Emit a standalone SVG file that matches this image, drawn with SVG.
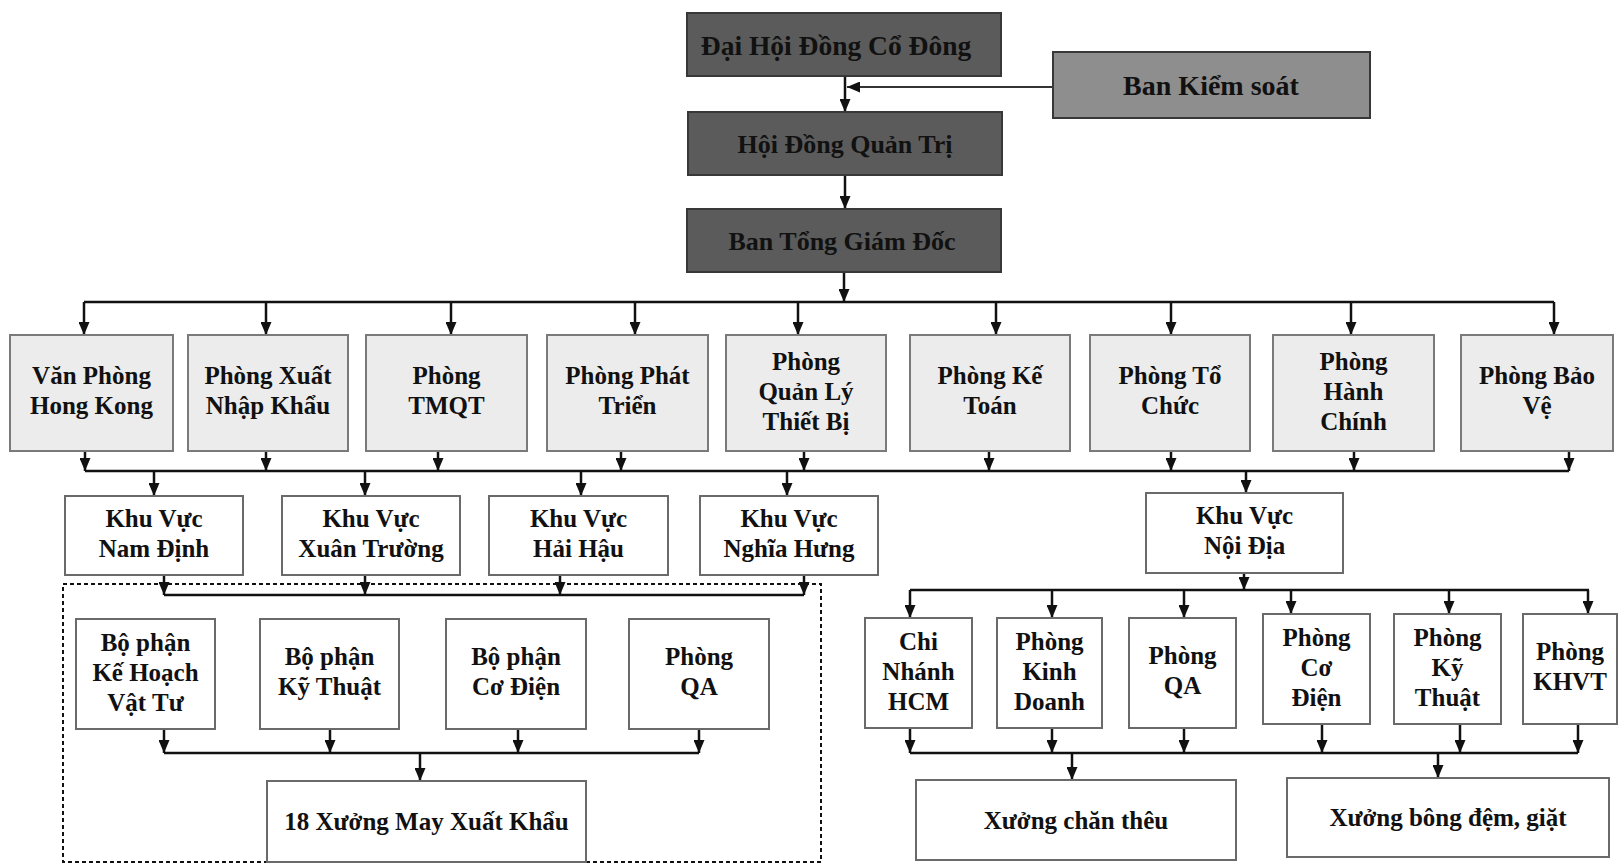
<svg xmlns="http://www.w3.org/2000/svg" width="1619" height="865" viewBox="0 0 1619 865">
<style>
.dark{fill:#5b5b5b;stroke:#383838;stroke-width:2}
.mid{fill:#8e8e8e;stroke:#383838;stroke-width:2}
.light{fill:#ececec;stroke:#7a7a7a;stroke-width:2}
.white{fill:#ffffff;stroke:#6a6a6a;stroke-width:2}
text{font-family:"Liberation Serif","Times New Roman",serif;font-weight:bold;fill:#111;text-anchor:middle;font-size:25px}
.big{font-size:26px}
.top{font-size:27.5px}
.bks{font-size:28px}
.conn{stroke:#111;stroke-width:2.5;fill:none}
.thin{stroke:#333;stroke-width:2}
.arr{marker-end:url(#ah)}
.dash{fill:none;stroke:#111;stroke-width:2;stroke-dasharray:4 3}
</style>
<defs>
<marker id="ah" viewBox="0 0 13 11" refX="13" refY="5.5" markerWidth="13" markerHeight="11" markerUnits="userSpaceOnUse" orient="auto">
<path d="M0,0 L13,5.5 L0,11 z" fill="#111"/>
</marker>
</defs>
<rect width="1619" height="865" fill="#ffffff"/>

<g id="region-dashed">
<rect class="dash" x="63" y="584" width="758" height="278"/>
</g>

<g id="connectors">
<line class="conn arr" x1="845" y1="76" x2="845" y2="112"/>
<line class="conn thin arr" x1="1053" y1="87" x2="847" y2="87"/>
<line class="conn arr" x1="845" y1="175" x2="845" y2="209"/>
<line class="conn arr" x1="844" y1="272" x2="844" y2="302"/>
<line class="conn" x1="84" y1="302" x2="1554" y2="302"/>
<line class="conn arr" x1="84" y1="302" x2="84" y2="335"/>
<line class="conn arr" x1="266" y1="302" x2="266" y2="335"/>
<line class="conn arr" x1="451" y1="302" x2="451" y2="335"/>
<line class="conn arr" x1="635" y1="302" x2="635" y2="335"/>
<line class="conn arr" x1="798" y1="302" x2="798" y2="335"/>
<line class="conn arr" x1="996" y1="302" x2="996" y2="335"/>
<line class="conn arr" x1="1171" y1="302" x2="1171" y2="335"/>
<line class="conn arr" x1="1351" y1="302" x2="1351" y2="335"/>
<line class="conn arr" x1="1554" y1="302" x2="1554" y2="335"/>

<line class="conn arr" x1="85" y1="451" x2="85" y2="471"/>
<line class="conn arr" x1="266" y1="451" x2="266" y2="471"/>
<line class="conn arr" x1="438" y1="451" x2="438" y2="471"/>
<line class="conn arr" x1="621" y1="451" x2="621" y2="471"/>
<line class="conn arr" x1="804" y1="451" x2="804" y2="471"/>
<line class="conn arr" x1="989" y1="451" x2="989" y2="471"/>
<line class="conn arr" x1="1171" y1="451" x2="1171" y2="471"/>
<line class="conn arr" x1="1354" y1="451" x2="1354" y2="471"/>
<line class="conn arr" x1="1569" y1="451" x2="1569" y2="471"/>
<line class="conn" x1="85" y1="471" x2="1569" y2="471"/>

<line class="conn arr" x1="154" y1="471" x2="154" y2="496"/>
<line class="conn arr" x1="365" y1="471" x2="365" y2="496"/>
<line class="conn arr" x1="581" y1="471" x2="581" y2="496"/>
<line class="conn arr" x1="787" y1="471" x2="787" y2="496"/>
<line class="conn arr" x1="1246" y1="471" x2="1246" y2="493"/>

<line class="conn arr" x1="164" y1="575" x2="164" y2="595"/>
<line class="conn arr" x1="365" y1="575" x2="365" y2="595"/>
<line class="conn arr" x1="560" y1="575" x2="560" y2="595"/>
<line class="conn arr" x1="804" y1="575" x2="804" y2="595"/>
<line class="conn" x1="164" y1="595" x2="804" y2="595"/>

<line class="conn arr" x1="164" y1="729" x2="164" y2="753"/>
<line class="conn arr" x1="330" y1="729" x2="330" y2="753"/>
<line class="conn arr" x1="518" y1="729" x2="518" y2="753"/>
<line class="conn arr" x1="699" y1="729" x2="699" y2="753"/>
<line class="conn" x1="164" y1="753" x2="699" y2="753"/>
<line class="conn arr" x1="420" y1="753" x2="420" y2="781"/>

<line class="conn arr" x1="1244" y1="573" x2="1244" y2="590"/>
<line class="conn" x1="910" y1="590" x2="1589" y2="590"/>
<line class="conn arr" x1="910" y1="590" x2="910" y2="618"/>
<line class="conn arr" x1="1052" y1="590" x2="1052" y2="618"/>
<line class="conn arr" x1="1184" y1="590" x2="1184" y2="618"/>
<line class="conn arr" x1="1291" y1="590" x2="1291" y2="614"/>
<line class="conn arr" x1="1449" y1="590" x2="1449" y2="614"/>
<line class="conn arr" x1="1588" y1="590" x2="1588" y2="614"/>

<line class="conn arr" x1="910" y1="728" x2="910" y2="753"/>
<line class="conn arr" x1="1052" y1="728" x2="1052" y2="753"/>
<line class="conn arr" x1="1184" y1="728" x2="1184" y2="753"/>
<line class="conn arr" x1="1322" y1="724" x2="1322" y2="753"/>
<line class="conn arr" x1="1460" y1="724" x2="1460" y2="753"/>
<line class="conn arr" x1="1578" y1="724" x2="1578" y2="753"/>
<line class="conn" x1="910" y1="753" x2="1578" y2="753"/>
<line class="conn arr" x1="1072" y1="753" x2="1072" y2="780"/>
<line class="conn arr" x1="1438" y1="753" x2="1438" y2="778"/>
</g>

<g id="n-dhdcd"><rect class="dark" x="687" y="13" width="314" height="63"/><text class="top" x="836" y="55">Đại Hội Đồng Cổ Đông</text></g>
<g id="n-bks"><rect class="mid" x="1053" y="52" width="317" height="66"/><text class="bks" x="1211" y="95">Ban Kiểm soát</text></g>
<g id="n-hdqt"><rect class="dark" x="688" y="112" width="314" height="63"/><text class="big" x="845" y="153">Hội Đồng Quản Trị</text></g>
<g id="n-btgd"><rect class="dark" x="687" y="209" width="314" height="63"/><text class="big" x="842" y="250">Ban Tổng Giám Đốc</text></g>

<g id="n-vphk"><rect class="light" x="10" y="335" width="163" height="116"/><text x="91.5" y="384">Văn Phòng</text><text x="91.5" y="414">Hong Kong</text></g>
<g id="n-xnk"><rect class="light" x="188" y="335" width="160" height="116"/><text x="268" y="384">Phòng Xuất</text><text x="268" y="414">Nhập Khẩu</text></g>
<g id="n-tmqt"><rect class="light" x="366" y="335" width="161" height="116"/><text x="446.5" y="384">Phòng</text><text x="446.5" y="414">TMQT</text></g>
<g id="n-pt"><rect class="light" x="547" y="335" width="161" height="116"/><text x="627.5" y="384">Phòng Phát</text><text x="627.5" y="414">Triển</text></g>
<g id="n-qltb"><rect class="light" x="726" y="335" width="160" height="116"/><text x="806" y="370">Phòng</text><text x="806" y="400">Quản Lý</text><text x="806" y="430">Thiết Bị</text></g>
<g id="n-kt"><rect class="light" x="910" y="335" width="160" height="116"/><text x="990" y="384">Phòng Kế</text><text x="990" y="414">Toán</text></g>
<g id="n-tc"><rect class="light" x="1090" y="335" width="160" height="116"/><text x="1170" y="384">Phòng Tổ</text><text x="1170" y="414">Chức</text></g>
<g id="n-hc"><rect class="light" x="1273" y="335" width="161" height="116"/><text x="1353.5" y="370">Phòng</text><text x="1353.5" y="400">Hành</text><text x="1353.5" y="430">Chính</text></g>
<g id="n-bv"><rect class="light" x="1461" y="335" width="152" height="116"/><text x="1537" y="384">Phòng Bảo</text><text x="1537" y="414">Vệ</text></g>

<g id="n-kvnd"><rect class="white" x="65" y="496" width="178" height="79"/><text x="154" y="527">Khu Vực</text><text x="154" y="557">Nam Định</text></g>
<g id="n-kvxt"><rect class="white" x="282" y="496" width="178" height="79"/><text x="371" y="527">Khu Vực</text><text x="371" y="557">Xuân Trường</text></g>
<g id="n-kvhh"><rect class="white" x="489" y="496" width="179" height="79"/><text x="578.5" y="527">Khu Vực</text><text x="578.5" y="557">Hải Hậu</text></g>
<g id="n-kvnh"><rect class="white" x="700" y="496" width="178" height="79"/><text x="789" y="527">Khu Vực</text><text x="789" y="557">Nghĩa Hưng</text></g>
<g id="n-kvnoi"><rect class="white" x="1146" y="493" width="197" height="80"/><text x="1244.5" y="524">Khu Vực</text><text x="1244.5" y="554">Nội Địa</text></g>

<g id="n-bpkhvt"><rect class="white" x="76" y="619" width="139" height="110"/><text x="145.5" y="651">Bộ phận</text><text x="145.5" y="681">Kế Hoạch</text><text x="145.5" y="711">Vật Tư</text></g>
<g id="n-bpkt"><rect class="white" x="260" y="619" width="139" height="110"/><text x="329.5" y="665">Bộ phận</text><text x="329.5" y="695">Kỹ Thuật</text></g>
<g id="n-bpcd"><rect class="white" x="446" y="619" width="140" height="110"/><text x="516" y="665">Bộ phận</text><text x="516" y="695">Cơ Điện</text></g>
<g id="n-pqa1"><rect class="white" x="629" y="619" width="140" height="110"/><text x="699" y="665">Phòng</text><text x="699" y="695">QA</text></g>
<g id="n-18x"><rect class="white" x="267" y="781" width="319" height="81"/><text x="426.5" y="830">18 Xưởng May Xuất Khẩu</text></g>

<g id="n-cn"><rect class="white" x="865" y="618" width="107" height="110"/><text x="918.5" y="650">Chi</text><text x="918.5" y="680">Nhánh</text><text x="918.5" y="710">HCM</text></g>
<g id="n-kd"><rect class="white" x="997" y="618" width="105" height="110"/><text x="1049.5" y="650">Phòng</text><text x="1049.5" y="680">Kinh</text><text x="1049.5" y="710">Doanh</text></g>
<g id="n-pqa2"><rect class="white" x="1129" y="618" width="107" height="110"/><text x="1182.5" y="664">Phòng</text><text x="1182.5" y="694">QA</text></g>
<g id="n-pcd"><rect class="white" x="1263" y="614" width="107" height="110"/><text x="1316.5" y="646">Phòng</text><text x="1316.5" y="676">Cơ</text><text x="1316.5" y="706">Điện</text></g>
<g id="n-pkt"><rect class="white" x="1394" y="614" width="107" height="110"/><text x="1447.5" y="646">Phòng</text><text x="1447.5" y="676">Kỹ</text><text x="1447.5" y="706">Thuật</text></g>
<g id="n-pkhvt"><rect class="white" x="1523" y="614" width="94" height="110"/><text x="1570" y="660">Phòng</text><text x="1570" y="690">KHVT</text></g>

<g id="n-xct"><rect class="white" x="916" y="780" width="320" height="80"/><text x="1076" y="829">Xưởng chăn thêu</text></g>
<g id="n-xbd"><rect class="white" x="1287" y="778" width="322" height="79"/><text x="1448" y="826">Xưởng bông đệm, giặt</text></g>
</svg>
